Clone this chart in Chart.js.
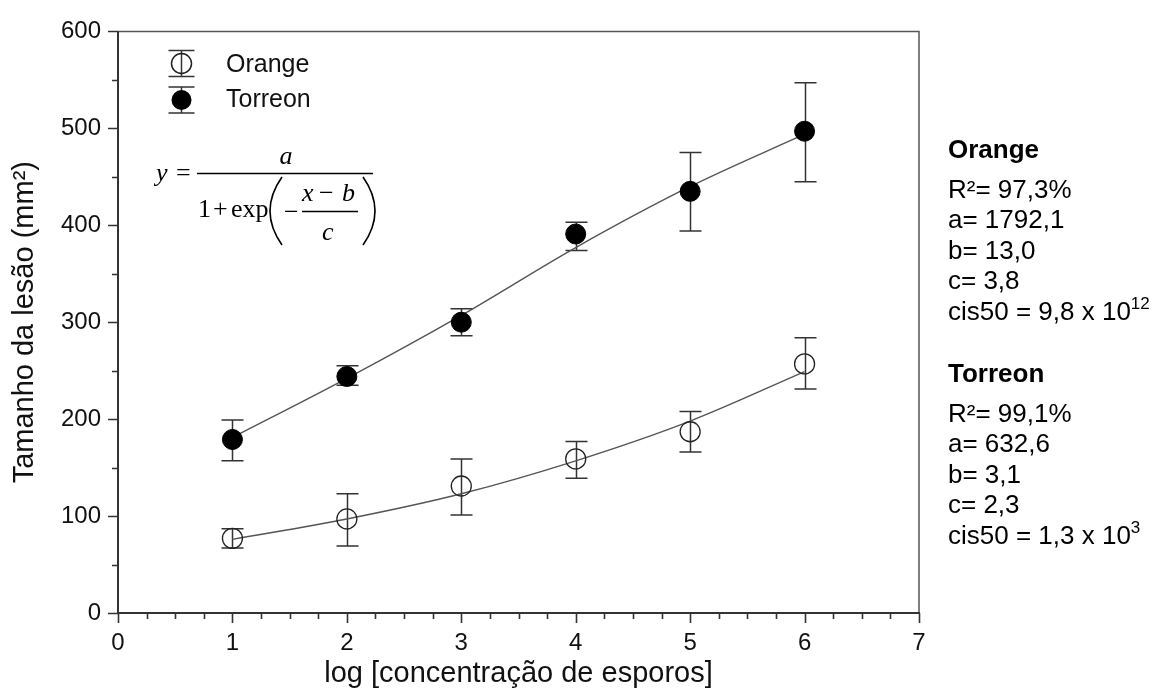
<!DOCTYPE html>
<html>
<head>
<meta charset="utf-8">
<title>Tamanho da lesão</title>
<script src="https://cdn.jsdelivr.net/npm/chart.js@4.4.1/dist/chart.umd.min.js"></script>
<style>
  html, body { margin: 0; padding: 0; background: #fff; }
  #wrap { position: relative; width: 1158px; height: 694px; }
  #chart { position: absolute; left: 0; top: 0; }
  .stats {
    position: absolute; left: 948px; color: #000; white-space: nowrap;
    font-family: "Liberation Sans", Arial, sans-serif; font-size: 26px;
  }
  .stats .head { font-weight: bold; line-height: 30px; }
  .stats .lines { line-height: 30.4px; }
  .sup { font-size: 17px; position: relative; top: -11px; }
</style>
</head>
<body>
<div id="wrap">
  <canvas id="chart" width="1158" height="694"></canvas>
  <div class="stats" style="top:134px"><div class="head">Orange</div></div>
  <div class="stats" style="top:174px"><div class="lines">
    R²= 97,3%<br>a= 1792,1<br>b= 13,0<br>c= 3,8<br>cis50 = 9,8 x 10<span class="sup">12</span>
  </div></div>
  <div class="stats" style="top:358px"><div class="head">Torreon</div></div>
  <div class="stats" style="top:398px"><div class="lines">
    R²= 99,1%<br>a= 632,6<br>b= 3,1<br>c= 2,3<br>cis50 = 1,3 x 10<span class="sup">3</span>
  </div></div>
</div>
<script>
// values
const xValues = [1, 2, 3, 4, 5, 6];
const orangeMean = [77, 97, 131, 159, 187, 257];
const orangeHigh = [87, 123, 159, 177, 208, 284];
const orangeLow = [67, 69, 101, 139, 166, 231];
const torreonMean = [179, 244, 300, 391, 435, 497];
const torreonHigh = [199, 255, 314, 403, 475, 547];
const torreonLow = [157, 235, 286, 374, 394, 445];
// fitted logistic curves as drawn
const orangeFit = [76, 97, 123, 157, 198, 249];
const torreonFit = [181, 242, 307, 377, 440, 494];
// axis ticks
const xTicks = [0, 1, 2, 3, 4, 5, 6, 7];
const yTicks = [0, 100, 200, 300, 400, 500, 600];

const FONT = '"Liberation Sans", Arial, sans-serif';
const SERIF = '"Liberation Serif", "Times New Roman", serif';

const toPoints = (ys) => xValues.map((x, i) => ({ x: x, y: ys[i] }));

// Error bars under the markers
const errorBars = {
  id: "errorBars",
  beforeDatasetsDraw(chart) {
    const { ctx, scales } = chart;
    ctx.save();
    ctx.strokeStyle = "#333";
    ctx.lineWidth = 1.5;
    [[orangeLow, orangeHigh], [torreonLow, torreonHigh]].forEach(([lo, hi]) => {
      xValues.forEach((xv, i) => {
        const px = Math.round(scales.x.getPixelForValue(xv)) + 0.5;
        const top = scales.y.getPixelForValue(hi[i]);
        const bot = scales.y.getPixelForValue(lo[i]);
        ctx.beginPath();
        ctx.moveTo(px, top);
        ctx.lineTo(px, bot);
        ctx.moveTo(px - 11, top);
        ctx.lineTo(px + 11, top);
        ctx.moveTo(px - 11, bot);
        ctx.lineTo(px + 11, bot);
        ctx.stroke();
      });
    });
    ctx.restore();
  },
};

// Frame, major + minor tick marks
const frameTicks = {
  id: "frameTicks",
  afterDraw(chart) {
    const { ctx, chartArea: a, scales } = chart;
    ctx.save();
    ctx.strokeStyle = "#555";
    ctx.lineWidth = 1.5;
    ctx.beginPath();
    ctx.moveTo(a.left, a.top);
    ctx.lineTo(a.right, a.top);
    ctx.lineTo(a.right, a.bottom);
    ctx.stroke();
    ctx.strokeStyle = "#333";
    ctx.lineWidth = 2;
    ctx.beginPath();
    ctx.moveTo(a.left, a.top);
    ctx.lineTo(a.left, a.bottom);
    ctx.lineTo(a.right + 1, a.bottom);
    ctx.stroke();
    ctx.lineWidth = 1.6;
    ctx.beginPath();
    for (let i = 0; i < xTicks.length; i++) {
      const px = Math.round(scales.x.getPixelForValue(xTicks[i])) + 0.5;
      ctx.moveTo(px, a.bottom);
      ctx.lineTo(px, a.bottom + 10);
      if (i < xTicks.length - 1) {
        const step = (xTicks[i + 1] - xTicks[i]) / 4;
        for (let k = 1; k < 4; k++) {
          const mx = Math.round(scales.x.getPixelForValue(xTicks[i] + k * step)) + 0.5;
          ctx.moveTo(mx, a.bottom);
          ctx.lineTo(mx, a.bottom + 6);
        }
      }
    }
    for (let i = 0; i < yTicks.length; i++) {
      const py = Math.round(scales.y.getPixelForValue(yTicks[i])) + 0.5;
      ctx.moveTo(a.left, py);
      ctx.lineTo(a.left - 10, py);
      if (i < yTicks.length - 1) {
        const my = Math.round(scales.y.getPixelForValue((yTicks[i] + yTicks[i + 1]) / 2)) + 0.5;
        ctx.moveTo(a.left, my);
        ctx.lineTo(a.left - 6, my);
      }
    }
    ctx.stroke();
    ctx.restore();
  },
};

// Legend with error-bar symbols and the model equation
const legendFormula = {
  id: "legendFormula",
  afterDraw(chart) {
    const { ctx } = chart;
    ctx.save();
    ctx.strokeStyle = "#333";
    ctx.lineWidth = 1.5;
    const sx = 181.5;
    [[63.5, false], [100, true]].forEach(([cy, filled]) => {
      ctx.beginPath();
      ctx.moveTo(sx, cy - 13);
      ctx.lineTo(sx, cy + 13);
      ctx.moveTo(sx - 13, cy - 13);
      ctx.lineTo(sx + 13, cy - 13);
      ctx.moveTo(sx - 13, cy + 13);
      ctx.lineTo(sx + 13, cy + 13);
      ctx.stroke();
      ctx.beginPath();
      ctx.arc(sx, cy, 10, 0, Math.PI * 2);
      if (filled) {
        ctx.fillStyle = "#000";
        ctx.fill();
      } else {
        ctx.strokeStyle = "#222";
        ctx.stroke();
        ctx.strokeStyle = "#333";
      }
    });
    ctx.fillStyle = "#111";
    ctx.font = "25px " + FONT;
    ctx.textBaseline = "alphabetic";
    ctx.fillText("Orange", 226, 72);
    ctx.fillText("Torreon", 226, 107);

    // y = a / (1 + exp(-(x - b)/c))
    ctx.fillStyle = "#000";
    ctx.strokeStyle = "#000";
    ctx.font = "italic 26px " + SERIF;
    ctx.fillText("y", 156, 181);
    ctx.font = "26px " + SERIF;
    ctx.fillText("=", 176, 181);
    ctx.lineWidth = 1.3;
    ctx.beginPath();
    ctx.moveTo(197, 173.5);
    ctx.lineTo(373, 173.5);
    ctx.moveTo(302, 211.5);
    ctx.lineTo(358, 211.5);
    ctx.stroke();
    ctx.textAlign = "center";
    ctx.font = "italic 26px " + SERIF;
    ctx.fillText("a", 286, 164);
    ctx.textAlign = "left";
    ctx.font = "26px " + SERIF;
    ctx.fillText("1", 198, 217);
    ctx.fillText("+", 213, 217);
    ctx.fillText("exp", 231, 217);
    ctx.fillText("\u2212", 284, 220);
    ctx.font = "italic 26px " + SERIF;
    ctx.fillText("x", 302, 201);
    ctx.fillText("b", 342, 201);
    ctx.fillText("c", 322, 240);
    ctx.font = "26px " + SERIF;
    ctx.fillText("\u2212", 319, 201);
    // big parentheses
    ctx.lineWidth = 1.6;
    ctx.beginPath();
    ctx.moveTo(282, 177);
    ctx.quadraticCurveTo(258, 211, 282, 245);
    ctx.moveTo(363, 177);
    ctx.quadraticCurveTo(387, 211, 363, 245);
    ctx.stroke();
    ctx.restore();
  },
};

new Chart(document.getElementById("chart"), {
  type: "scatter",
  data: {
    datasets: [
      {
        label: "Orange",
        data: toPoints(orangeMean),
        pointRadius: 10,
        pointHoverRadius: 10,
        pointBackgroundColor: "rgba(0,0,0,0)",
        pointBorderColor: "#222",
        pointBorderWidth: 1.3,
      },
      {
        label: "Torreon",
        data: toPoints(torreonMean),
        pointRadius: 10,
        pointHoverRadius: 10,
        pointBackgroundColor: "#000",
        pointBorderColor: "#000",
        pointBorderWidth: 1,
      },
      {
        label: "Orange ajuste",
        data: toPoints(orangeFit),
        showLine: true,
        pointRadius: 0,
        borderColor: "#555",
        borderWidth: 1.4,
        cubicInterpolationMode: "monotone",
      },
      {
        label: "Torreon ajuste",
        data: toPoints(torreonFit),
        showLine: true,
        pointRadius: 0,
        borderColor: "#555",
        borderWidth: 1.4,
        cubicInterpolationMode: "monotone",
      },
    ],
  },
  options: {
    responsive: false,
    animation: false,
    layout: { padding: { top: 25, right: 239, left: 0, bottom: 0 } },
    plugins: {
      legend: { display: false },
      tooltip: { enabled: false },
    },
    scales: {
      x: {
        type: "linear",
        min: 0,
        max: 7,
        afterBuildTicks: (s) => { s.ticks = xTicks.map((v) => ({ value: v })); },
        afterFit: (s) => { s.height = 81; },
        grid: { display: false, drawTicks: false },
        border: { display: false },
        ticks: { padding: 16, color: "#111", maxRotation: 0, autoSkip: false, font: { size: 24, family: FONT } },
        title: {
          display: true,
          text: "log [concentração de esporos]",
          color: "#111",
          font: { size: 29, family: FONT },
          padding: { top: 0, bottom: 3 },
        },
      },
      y: {
        type: "linear",
        min: 0,
        max: 600,
        afterBuildTicks: (s) => { s.ticks = yTicks.map((v) => ({ value: v })); },
        afterFit: (s) => { s.width = 118; },
        grid: { display: false, drawTicks: false },
        border: { display: false },
        ticks: { padding: 17, color: "#111", autoSkip: false, font: { size: 24, family: FONT } },
        title: {
          display: true,
          text: "Tamanho da lesão (mm²)",
          color: "#111",
          font: { size: 29, family: FONT },
          padding: { top: 8, bottom: 0 },
        },
      },
    },
  },
  plugins: [errorBars, frameTicks, legendFormula],
});
</script>
</body>
</html>
